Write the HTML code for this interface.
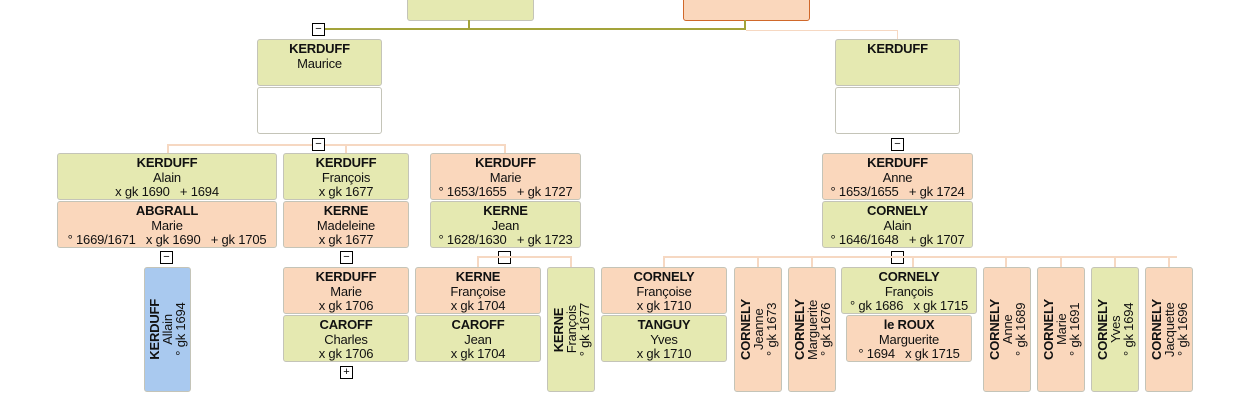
<!DOCTYPE html>
<html><head><meta charset="utf-8"><style>
body{margin:0;width:1246px;height:406px;overflow:hidden;background:#fff;position:relative;font-family:"Liberation Sans",Arial,sans-serif;}
.n{position:absolute;box-sizing:border-box;border:1px solid #c4c4b8;border-radius:3px;text-align:center;font-size:13px;line-height:14.5px;color:#111;padding-top:2px;white-space:nowrap;letter-spacing:-0.2px;}
.g{background:#e5e9b1;}
.p{background:#fad7bc;}
.b{background:#a9c9ef;}
.w{background:#fff;}
.n b{font-weight:bold;}
.v{display:flex;align-items:center;justify-content:center;padding:0;}
.v div{writing-mode:vertical-rl;transform:rotate(180deg);text-align:center;line-height:13px;}
.l{position:absolute;background:#f6d8c2;}
.o{position:absolute;background:#a3a33a;}
.m{position:absolute;width:11px;height:11px;border:1px solid #000;background:#fff;font-size:11px;line-height:10px;text-align:center;letter-spacing:0;}
</style></head><body>
<div class="n g" style="left:407px;top:-10px;width:127px;height:31px"></div>
<div class="n p" style="left:683px;top:-10px;width:127px;height:31px;border-color:#d0682a"></div>
<div class="o" style="left:468px;top:20px;width:2px;height:10px"></div>
<div class="o" style="left:744px;top:20px;width:2px;height:10px"></div>
<div class="o" style="left:325px;top:28px;width:421px;height:2px"></div>
<div class="l" style="left:746px;top:30px;width:152px;height:1px"></div>
<div class="l" style="left:897px;top:30px;width:1px;height:9px"></div>
<div class="m" style="left:312px;top:23px">−</div>

<div class="n g" style="left:257px;top:39px;width:125px;height:47px"><b>KERDUFF</b><br>Maurice</div>
<div class="n w" style="left:257px;top:87px;width:125px;height:47px"></div>
<div class="n g" style="left:835px;top:39px;width:125px;height:47px"><b>KERDUFF</b></div>
<div class="n w" style="left:835px;top:87px;width:125px;height:47px"></div>

<div class="l" style="left:167px;top:144px;width:338px;height:2px"></div>
<div class="l" style="left:167px;top:144px;width:2px;height:9px"></div>
<div class="l" style="left:345px;top:144px;width:2px;height:9px"></div>
<div class="l" style="left:504px;top:144px;width:2px;height:9px"></div>
<div class="m" style="left:312px;top:138px">−</div>
<div class="m" style="left:891px;top:138px">−</div>

<div class="n g" style="left:57px;top:153px;width:220px;height:47px"><b>KERDUFF</b><br>Alain<br>x gk 1690 &nbsp; + 1694</div>
<div class="n p" style="left:57px;top:201px;width:220px;height:47px"><b>ABGRALL</b><br>Marie<br>° 1669/1671 &nbsp; x gk 1690 &nbsp; + gk 1705</div>
<div class="n g" style="left:283px;top:153px;width:126px;height:47px"><b>KERDUFF</b><br>François<br>x gk 1677</div>
<div class="n p" style="left:283px;top:201px;width:126px;height:47px"><b>KERNE</b><br>Madeleine<br>x gk 1677</div>
<div class="n p" style="left:430px;top:153px;width:151px;height:47px"><b>KERDUFF</b><br>Marie<br>° 1653/1655 &nbsp; + gk 1727</div>
<div class="n g" style="left:430px;top:201px;width:151px;height:47px"><b>KERNE</b><br>Jean<br>° 1628/1630 &nbsp; + gk 1723</div>
<div class="n p" style="left:822px;top:153px;width:151px;height:47px"><b>KERDUFF</b><br>Anne<br>° 1653/1655 &nbsp; + gk 1724</div>
<div class="n g" style="left:822px;top:201px;width:151px;height:47px"><b>CORNELY</b><br>Alain<br>° 1646/1648 &nbsp; + gk 1707</div>

<div class="m" style="left:160px;top:251px">−</div>
<div class="m" style="left:340px;top:251px">−</div>
<div class="m" style="left:498px;top:251px">−</div>
<div class="m" style="left:891px;top:251px">−</div>
<div class="l" style="left:477px;top:256px;width:95px;height:2px"></div>
<div class="l" style="left:477px;top:256px;width:2px;height:11px"></div>
<div class="l" style="left:570px;top:256px;width:2px;height:11px"></div>
<div class="l" style="left:663px;top:256px;width:514px;height:2px"></div>
<div class="l" style="left:663px;top:256px;width:2px;height:11px"></div>
<div class="l" style="left:757px;top:256px;width:2px;height:11px"></div>
<div class="l" style="left:811px;top:256px;width:2px;height:11px"></div>
<div class="l" style="left:912px;top:256px;width:2px;height:11px"></div>
<div class="l" style="left:1005px;top:256px;width:2px;height:11px"></div>
<div class="l" style="left:1060px;top:256px;width:2px;height:11px"></div>
<div class="l" style="left:1114px;top:256px;width:2px;height:11px"></div>
<div class="l" style="left:1168px;top:256px;width:2px;height:11px"></div>

<div class="n b v" style="left:144px;top:267px;width:47px;height:125px"><div><b>KERDUFF</b><br>Allain<br>° gk 1694</div></div>
<div class="n p" style="left:283px;top:267px;width:126px;height:47px"><b>KERDUFF</b><br>Marie<br>x gk 1706</div>
<div class="n g" style="left:283px;top:315px;width:126px;height:47px"><b>CAROFF</b><br>Charles<br>x gk 1706</div>
<div class="m" style="left:340px;top:366px">+</div>
<div class="n p" style="left:415px;top:267px;width:126px;height:47px"><b>KERNE</b><br>Françoise<br>x gk 1704</div>
<div class="n g" style="left:415px;top:315px;width:126px;height:47px"><b>CAROFF</b><br>Jean<br>x gk 1704</div>
<div class="n g v" style="left:547px;top:267px;width:48px;height:125px"><div><b>KERNE</b><br>François<br>° gk 1677</div></div>

<div class="n p" style="left:601px;top:267px;width:126px;height:47px"><b>CORNELY</b><br>Françoise<br>x gk 1710</div>
<div class="n g" style="left:601px;top:315px;width:126px;height:47px"><b>TANGUY</b><br>Yves<br>x gk 1710</div>
<div class="n p v" style="left:734px;top:267px;width:48px;height:125px"><div><b>CORNELY</b><br>Jeanne<br>° gk 1673</div></div>
<div class="n p v" style="left:788px;top:267px;width:48px;height:125px"><div><b>CORNELY</b><br>Marguerite<br>° gk 1676</div></div>
<div class="n g" style="left:841px;top:267px;width:136px;height:47px"><b>CORNELY</b><br>François<br>° gk 1686 &nbsp; x gk 1715</div>
<div class="n p" style="left:846px;top:315px;width:126px;height:47px"><b>le ROUX</b><br>Marguerite<br>° 1694 &nbsp; x gk 1715</div>
<div class="n p v" style="left:983px;top:267px;width:48px;height:125px"><div><b>CORNELY</b><br>Anne<br>° gk 1689</div></div>
<div class="n p v" style="left:1037px;top:267px;width:48px;height:125px"><div><b>CORNELY</b><br>Marie<br>° gk 1691</div></div>
<div class="n g v" style="left:1091px;top:267px;width:48px;height:125px"><div><b>CORNELY</b><br>Yves<br>° gk 1694</div></div>
<div class="n p v" style="left:1145px;top:267px;width:48px;height:125px"><div><b>CORNELY</b><br>Jacquette<br>° gk 1696</div></div>
</body></html>
